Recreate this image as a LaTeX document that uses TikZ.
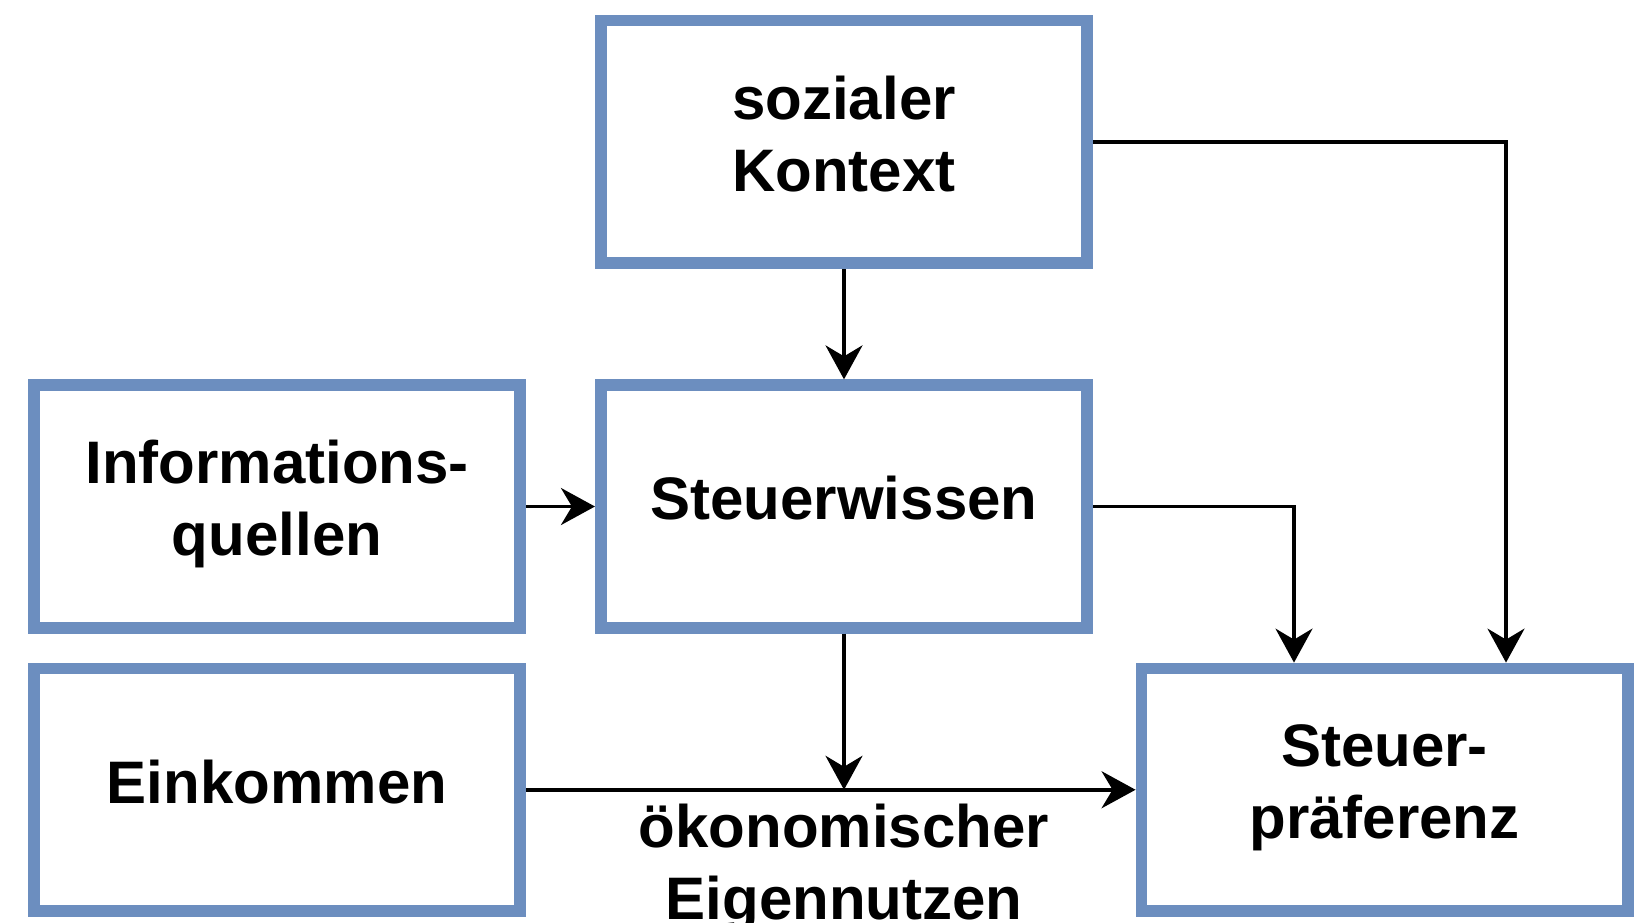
\documentclass[tikz,border=0pt]{standalone}
\usepackage{fontspec}
\setmainfont{Liberation Sans}
\usetikzlibrary{arrows.meta}
\definecolor{boxblue}{HTML}{6C8EBF}
\newcommand\boxfont{\bfseries\fontsize{60}{72}\selectfont}
\newcommand\dpstrut{\rule[-17pt]{0pt}{17pt}}
\tikzset{
  box/.style={draw=boxblue, line width=11.6pt, minimum width=486.5pt,
    minimum height=242.7pt, inner sep=0pt, align=center, font=\boxfont},
  conn/.style={line width=3.5pt, draw=black,
    -{Stealth[length=34pt,width=37pt,inset=11pt]}},
  freetext/.style={inner sep=0pt, align=center, font=\boxfont}
}
\begin{document}
\begin{tikzpicture}[x=1pt,y=-1pt]
\useasboundingbox (0,0) rectangle (1640,922);
\node[box] (sk)   at (844,141.9)   {sozialer\\Kontext\dpstrut};
\node[box] (sw)   at (844,506.5)   {Steuerwissen\dpstrut};
\node[box] (info) at (277,506.5)   {Informations-\\quellen\dpstrut};
\node[box] (ek)   at (277,789.75)  {Einkommen\dpstrut};
\node[box] (sp)   at (1384.6,789.75) {Steuer-\\präferenz\dpstrut};
\coordinate (econ) at (sw.south |- ek.east);
\node[freetext, anchor=north] (econtext) at ([yshift=-14pt]econ) {ökonomischer\\Eigennutzen};
\draw[conn] (sk.south) -- (sw.north);
\draw[conn] (sk.east) -| ([xshift=121.4pt]sp.north);
\draw[conn] (sw.east) -| ([xshift=-90.6pt]sp.north);
\draw[conn] (info.east) -- (sw.west);
\draw[conn] (sw.south) -- (econ);
\draw[conn] (ek.east) -- (sp.west);
\end{tikzpicture}
\end{document}
